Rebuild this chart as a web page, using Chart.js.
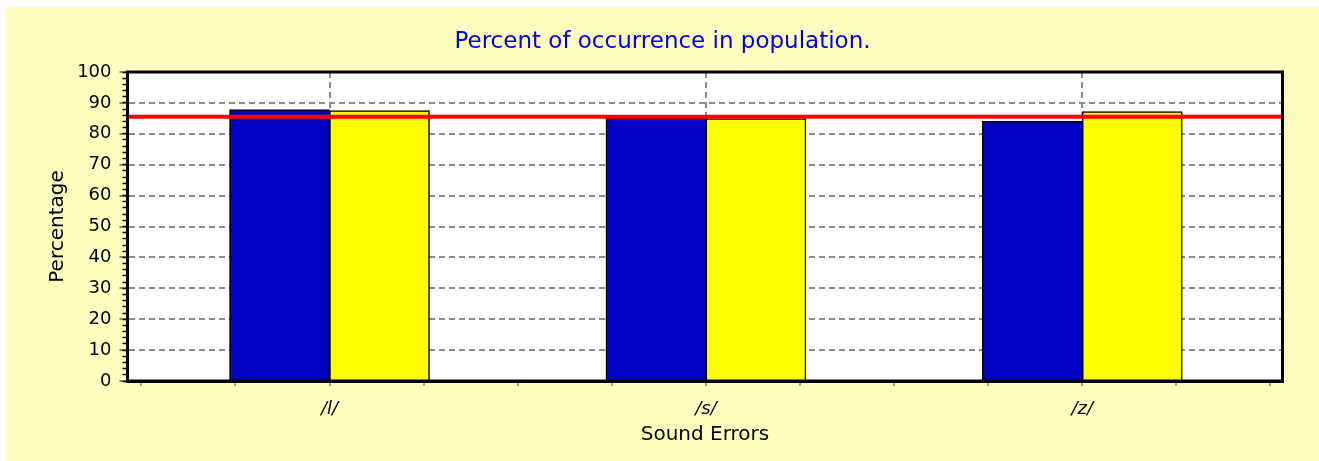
<!DOCTYPE html>
<html>
<head>
<meta charset="utf-8">
<script src="https://cdn.jsdelivr.net/npm/chart.js@4/dist/chart.umd.min.js"></script>
<style>
  html, body { margin: 0; padding: 0; background: #ffffff; width: 1319px; height: 461px; overflow: hidden; }
  #box { position: absolute; left: 6px; top: 7px; width: 1313px; height: 454px; background: #FFFFC0; }
  canvas { display: block; }
</style>
</head>
<body>
<div id="box"><canvas id="c" width="1313" height="454" style="width:1313px;height:454px"></canvas></div>
<script>
// ---- data ----
const categories = ['/l/', '/s/', '/z/'];
const seriesBlue = [87.8, 85.1, 84.0];
const seriesYellow = [87.5, 84.9, 87.2];
const threshold = 85.5;
const titleText = 'Percent of occurrence in population.';
const xTitle = 'Sound Errors';
const yTitle = 'Percentage';

// axis ranges
const xMin = 0.4633, xMax = 3.5319;
const yMin = 0, yMax = 100;

const isInt = v => Math.abs(v - Math.round(v)) < 1e-6;
const FONT = 'DejaVu Sans';

const blueData = categories.map((c, i) => ({ x: i + 1, y: seriesBlue[i] }));
const yellowData = categories.map((c, i) => ({ x: i + 1, y: seriesYellow[i] }));
const lineData = [{ x: xMin, y: threshold }, { x: xMax, y: threshold }];

const plotFrame = {
  id: 'plotFrame',
  beforeDraw(chart) {
    const { ctx, chartArea: a } = chart;
    ctx.save();
    ctx.fillStyle = '#ffffff';
    ctx.fillRect(a.left, a.top, a.right - a.left, a.bottom - a.top);
    ctx.restore();
  },
  afterDraw(chart) {
    const { ctx, chartArea: a } = chart;
    ctx.save();
    ctx.strokeStyle = '#000000';
    ctx.lineWidth = 3;
    ctx.strokeRect(a.left, a.top, a.right - a.left, a.bottom - a.top);
    ctx.restore();
  }
};

new Chart(document.getElementById('c'), {
  type: 'bar',
  data: {
    datasets: [
      { type: 'line', label: 'Average', data: lineData, borderColor: '#FF0000', borderWidth: 4,
        pointRadius: 0, fill: false, order: 0, tension: 0 },
      { label: 'Series 1', data: blueData, backgroundColor: '#0000C0', borderColor: '#000000',
        borderWidth: 1.5, barThickness: 100, order: 1 },
      { label: 'Series 2', data: yellowData, backgroundColor: '#FFFF00', borderColor: '#000000',
        borderWidth: 1.5, barThickness: 100, order: 1 }
    ]
  },
  options: {
    responsive: false,
    animation: false,
    devicePixelRatio: 1,
    layout: { padding: 0 },
    plugins: {
      legend: { display: false },
      tooltip: { enabled: false },
      title: {
        display: true, text: titleText, color: '#0000F0',
        font: { family: FONT, size: 23, weight: 'normal' },
        padding: { top: 21, bottom: 16.4 }
      }
    },
    scales: {
      x: {
        type: 'linear', min: xMin, max: xMax, offset: false,
        grid: {
          offset: false,
          color: c => (c.tick && isInt(c.tick.value)) ? '#8c8c8c' : 'rgba(0,0,0,0)',
          lineWidth: 2,
          tickColor: '#808080', tickLength: 5, tickWidth: 1.5
        },
        border: { display: true, color: '#000000', width: 3, dash: [6, 4] },
        ticks: {
          stepSize: 0.25, includeBounds: false, autoSkip: false, maxRotation: 0, maxTicksLimit: 100,
          padding: 13, color: '#000000',
          font: { family: FONT, size: 18, style: 'italic' },
          callback: v => isInt(v) ? categories[Math.round(v) - 1] : ''
        },
        title: {
          display: true, text: xTitle, color: '#000000',
          font: { family: FONT, size: 20 }, padding: { top: 0, bottom: 14 }
        },
        afterFit: s => { s.height = 80; }
      },
      y: {
        type: 'linear', min: yMin, max: yMax, weight: 1, position: 'left',
        grid: {
          color: '#8c8c8c', lineWidth: 2,
          tickColor: '#606060', tickLength: 8, tickWidth: 1.5
        },
        border: { display: true, color: '#000000', width: 3, dash: [6, 4] },
        ticks: {
          stepSize: 10, autoSkip: false, padding: 8, color: '#000000',
          font: { family: FONT, size: 18 }
        },
        title: {
          display: true, text: yTitle, color: '#000000',
          font: { family: FONT, size: 20 }, padding: { top: 40, bottom: 0 }
        },
        afterFit: s => { s.width = 121.5; }
      },
      yMinor: {
        type: 'linear', min: yMin, max: yMax, weight: 0, position: 'left',
        grid: { drawOnChartArea: false, tickLength: 5, tickColor: '#000000', tickWidth: 1.5 },
        border: { display: false },
        ticks: { display: false, stepSize: 2, autoSkip: false, maxTicksLimit: 100 },
        afterFit: s => { s.width = 0; }
      },
      yRight: {
        type: 'linear', min: yMin, max: yMax, position: 'right',
        grid: { display: false, drawTicks: false },
        border: { display: false },
        ticks: { display: false },
        afterFit: s => { s.width = 36.5; }
      }
    }
  },
  plugins: [plotFrame]
});
</script>
</body>
</html>
